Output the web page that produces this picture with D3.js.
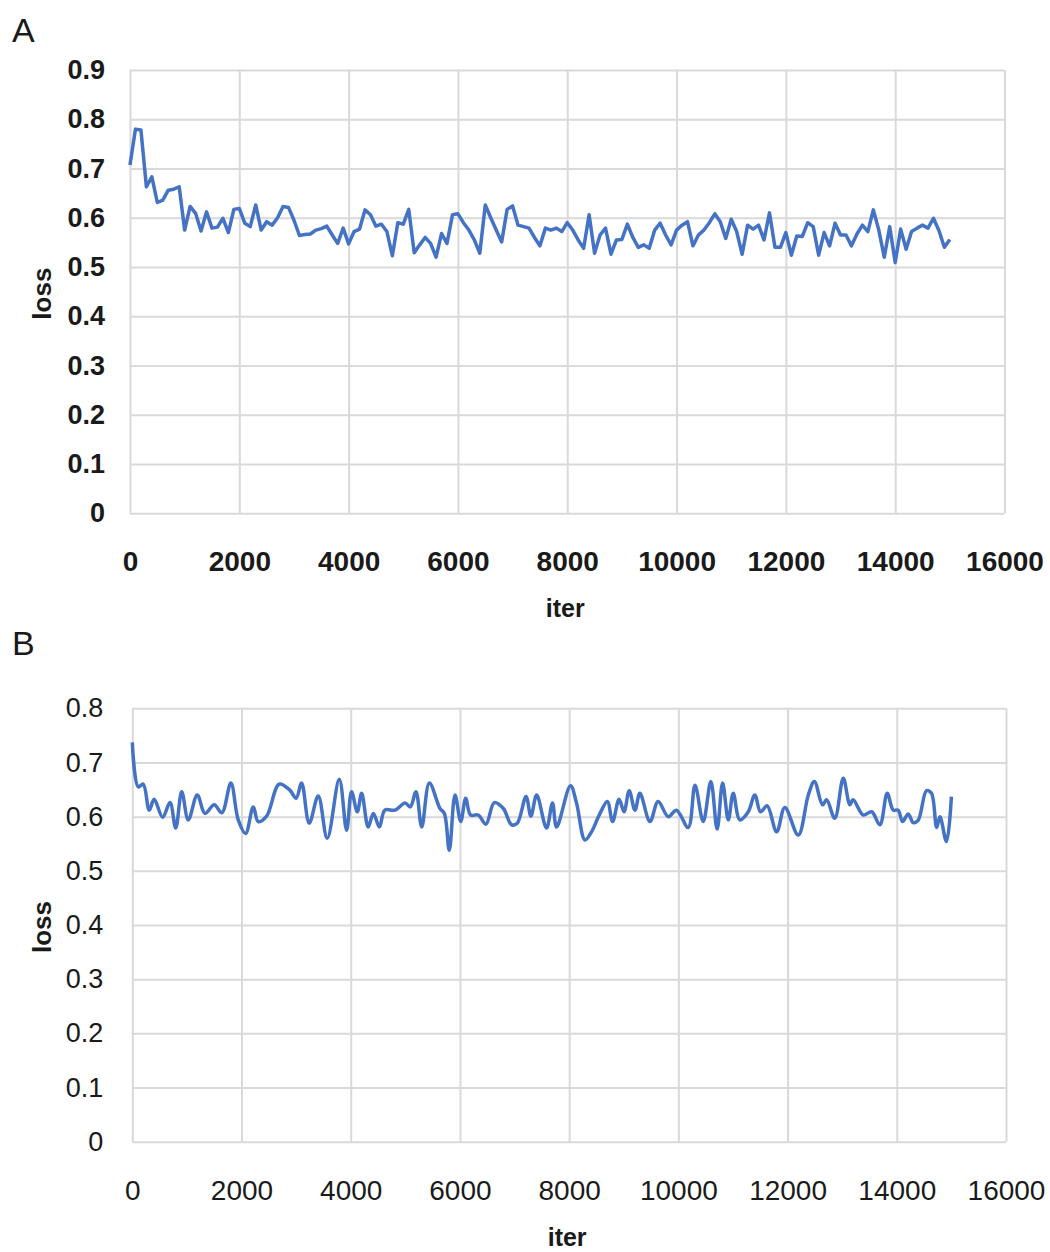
<!DOCTYPE html>
<html>
<head>
<meta charset="utf-8">
<script src="https://cdn.jsdelivr.net/npm/d3@7"></script>
<style>
  body { margin: 0; background: #fff; }
  svg text { font-family: "Liberation Sans", Arial, sans-serif; fill: #1a1a1a; }
</style>
</head>
<body>
<svg id="chart" width="1050" height="1252"></svg>
<script>
// x ticks shared by both panels
var xTicks = [0, 2000, 4000, 6000, 8000, 10000, 12000, 14000, 16000];
var yTicksA = [0, 0.1, 0.2, 0.3, 0.4, 0.5, 0.6, 0.7, 0.8, 0.9];
var yTicksB = [0, 0.1, 0.2, 0.3, 0.4, 0.5, 0.6, 0.7, 0.8];

// panel A: loss logged every 100 iterations
var itersA = d3.range(0, 15001, 100);
var lossA = [
  0.707, 0.780, 0.778, 0.663, 0.683, 0.631, 0.636, 0.656, 0.658, 0.663,
  0.575, 0.623, 0.609, 0.573, 0.612, 0.579, 0.581, 0.599, 0.570, 0.617,
  0.619, 0.589, 0.582, 0.626, 0.575, 0.592, 0.585, 0.600, 0.623, 0.621,
  0.595, 0.564, 0.566, 0.567, 0.575, 0.578, 0.583, 0.565, 0.548, 0.579,
  0.547, 0.572, 0.577, 0.616, 0.606, 0.583, 0.587, 0.572, 0.523, 0.590,
  0.587, 0.617, 0.529, 0.545, 0.560, 0.548, 0.520, 0.568, 0.548, 0.606,
  0.608, 0.590, 0.575, 0.555, 0.528, 0.626, 0.600, 0.575, 0.551, 0.617,
  0.624, 0.585, 0.582, 0.579, 0.560, 0.543, 0.579, 0.575, 0.579, 0.572,
  0.590, 0.575, 0.555, 0.538, 0.606, 0.528, 0.565, 0.579, 0.526, 0.555,
  0.556, 0.587, 0.560, 0.540, 0.545, 0.538, 0.575, 0.589, 0.565, 0.545,
  0.575, 0.585, 0.592, 0.543, 0.565, 0.575, 0.590, 0.608, 0.592, 0.558,
  0.597, 0.572, 0.526, 0.585, 0.577, 0.585, 0.555, 0.610, 0.540, 0.540,
  0.570, 0.524, 0.563, 0.562, 0.590, 0.582, 0.524, 0.570, 0.543, 0.589,
  0.565, 0.565, 0.543, 0.567, 0.585, 0.572, 0.616, 0.575, 0.520, 0.582,
  0.509, 0.577, 0.536, 0.572, 0.579, 0.585, 0.579, 0.599, 0.574, 0.540,
  0.556
];

// panel B: smoothed line, read at its turning points
var itersB = [
  0, 110, 200, 310, 400, 555, 690, 795, 905, 1025, 1190, 1330, 1500, 1640, 1805, 1940,
  2075, 2215, 2305, 2460, 2690, 2885, 3000, 3100, 3240, 3405, 3570, 3790, 3925, 4015,
  4120, 4200, 4320, 4415, 4525, 4625, 4810, 4995, 5090, 5195, 5300, 5440, 5635, 5715,
  5805, 5910, 6015, 6105, 6195, 6335, 6475, 6630, 6795, 6945, 7050, 7210, 7300, 7405,
  7585, 7695, 7770, 8025, 8135, 8290, 8410, 8565, 8700, 8795, 8915, 9005, 9100, 9205,
  9295, 9480, 9630, 9815, 9965, 10180, 10305, 10455, 10595, 10710, 10810, 10915, 11005,
  11125, 11280, 11400, 11505, 11625, 11800, 11950, 12195, 12380, 12490, 12640, 12715,
  12865, 13020, 13140, 13200, 13385, 13540, 13690, 13825, 13935, 14025, 14105, 14210,
  14300, 14390, 14545, 14635, 14730, 14790, 14910, 15000
];
var lossB = [
  0.737, 0.655, 0.660, 0.612, 0.632, 0.599, 0.626, 0.579, 0.646, 0.594, 0.640, 0.606, 0.622, 0.607, 0.662, 0.594,
  0.569, 0.618, 0.591, 0.601, 0.660, 0.649, 0.634, 0.662, 0.588, 0.638, 0.560, 0.669, 0.575, 0.646,
  0.609, 0.643, 0.581, 0.606, 0.581, 0.612, 0.612, 0.625, 0.618, 0.646, 0.581, 0.662, 0.615, 0.606,
  0.538, 0.640, 0.591, 0.634, 0.603, 0.603, 0.586, 0.626, 0.615, 0.585, 0.588, 0.637, 0.601, 0.640,
  0.579, 0.625, 0.581, 0.657, 0.625, 0.557, 0.572, 0.606, 0.628, 0.591, 0.632, 0.609, 0.648, 0.612,
  0.643, 0.591, 0.628, 0.600, 0.612, 0.580, 0.658, 0.591, 0.665, 0.577, 0.662, 0.594, 0.643,
  0.594, 0.609, 0.640, 0.609, 0.620, 0.572, 0.617, 0.566, 0.640, 0.665, 0.622, 0.631,
  0.597, 0.671, 0.622, 0.631, 0.603, 0.609, 0.585, 0.643, 0.612, 0.612, 0.591, 0.605,
  0.589, 0.593, 0.648, 0.643, 0.580, 0.600, 0.554, 0.637
];

var svg = d3.select('#chart');
var lineColor = '#4472c4',
	gridColor = '#d9d9d9';

function drawPanel(p) {
	var x = d3.scaleLinear().domain([0, 16000]).range([p.left, p.right]),
		y = d3.scaleLinear().domain([0, d3.max(p.yTicks)]).range([p.bottom, p.top]);

	var g = svg.append('g');

	// grid (also makes the frame)
	g.append('g')
		.attr('transform', 'translate(' + p.left + ',0)')
		.call(d3.axisLeft(y).tickValues(p.yTicks).tickSize(-(p.right - p.left)).tickFormat(''))
		.call(function(s) {
			s.select('.domain').remove();
			s.selectAll('line').attr('stroke', gridColor).attr('stroke-width', 2);
		});
	g.append('g')
		.attr('transform', 'translate(0,' + p.bottom + ')')
		.call(d3.axisBottom(x).tickValues(xTicks).tickSize(-(p.bottom - p.top)).tickFormat(''))
		.call(function(s) {
			s.select('.domain').remove();
			s.selectAll('line').attr('stroke', gridColor).attr('stroke-width', 2);
		});

	// tick labels
	g.append('g')
		.attr('transform', 'translate(' + (p.left - p.yGap) + ',0)')
		.call(d3.axisLeft(y).tickValues(p.yTicks).tickSize(0).tickFormat(d3.format('~g')))
		.call(function(s) {
			s.select('.domain').remove();
			s.selectAll('text')
				.attr('font-size', 27)
				.attr('font-weight', p.bold ? 'bold' : 'normal')
				.attr('fill', '#1a1a1a')
				.attr('font-family', '"Liberation Sans", Arial, sans-serif');
		});
	g.append('g')
		.attr('transform', 'translate(0,' + (p.bottom + 35) + ')')
		.call(d3.axisBottom(x).tickValues(xTicks).tickSize(0).tickFormat(d3.format('d')))
		.call(function(s) {
			s.select('.domain').remove();
			s.selectAll('text')
				.attr('font-size', 28)
				.attr('font-weight', p.bold ? 'bold' : 'normal')
				.attr('fill', '#1a1a1a')
				.attr('font-family', '"Liberation Sans", Arial, sans-serif');
		});

	// axis titles
	g.append('text')
		.attr('x', (p.left + p.right) / 2 - 2)
		.attr('y', p.bottom + 104)
		.attr('text-anchor', 'middle')
		.attr('font-size', 25)
		.attr('font-weight', 'bold')
		.text('iter');
	g.append('text')
		.attr('transform', 'translate(51,' + ((p.top + p.bottom) / 2 + 2) + ') rotate(-90)')
		.attr('text-anchor', 'middle')
		.attr('font-size', 26)
		.attr('font-weight', 'bold')
		.text('loss');

	// panel letter
	g.append('text')
		.attr('x', 12)
		.attr('y', p.letterY)
		.attr('font-size', 34)
		.text(p.letter);

	var line = d3.line()
		.x(function(d) { return x(d[0]); })
		.y(function(d) { return y(d[1]); })
		.curve(p.curve);

	g.append('path')
		.datum(d3.zip(p.iters, p.loss))
		.attr('d', line)
		.attr('fill', 'none')
		.attr('stroke', lineColor)
		.attr('stroke-width', 3.5)
		.attr('stroke-linejoin', 'round');
}

drawPanel({
	letter: 'A', letterY: 42, left: 130, right: 1004.5, top: 70, bottom: 513.3, yGap: 22,
	yTicks: yTicksA, iters: itersA, loss: lossA, bold: true, curve: d3.curveLinear
});
drawPanel({
	letter: 'B', letterY: 655, left: 132.3, right: 1006, top: 708.3, bottom: 1141.7, yGap: 26,
	yTicks: yTicksB, iters: itersB, loss: lossB, bold: false, curve: d3.curveCatmullRom.alpha(0.5)
});
</script>
</body>
</html>
